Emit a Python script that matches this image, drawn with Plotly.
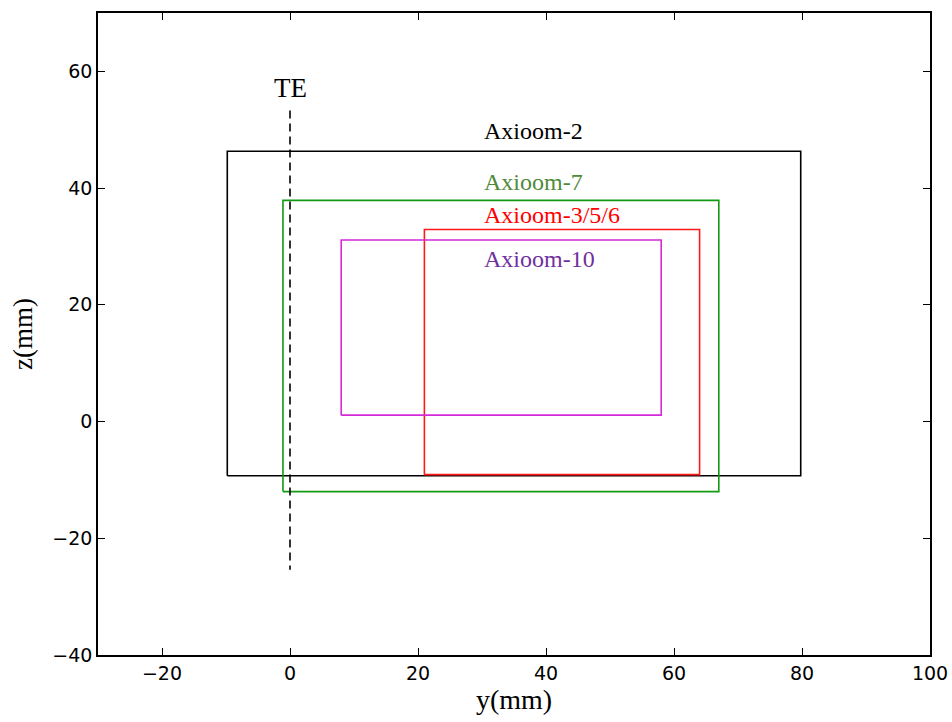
import plotly.graph_objects as go

# Rectangles: name, y-min, y-max, z-min, z-max
names = ["Axioom-2", "Axioom-7", "Axioom-3/5/6", "Axioom-10"]
y_min = [-9.8, -1.1, 21.0, 8.0]
y_max = [79.8, 67.0, 64.0, 58.0]
z_min = [-9.3, -12.0, -9.1, 1.1]
z_max = [46.3, 37.9, 32.9, 31.1]
line_colors = ["#000000", "#119911", "#ff1a1a", "#d42ad8"]
text_colors = ["#000000", "#4f8a3a", "#ff0000", "#7030a0"]
label_y = [30, 30, 30, 30]
label_z = [49.8, 41.0, 35.4, 27.8]

# Trailing-edge line
te_y = [0, 0]
te_z = [53.3, -25.4]
te_label_z = 57.2

fig = go.Figure()
for i, n in enumerate(names):
    fig.add_trace(go.Scatter(
        x=[y_min[i], y_max[i], y_max[i], y_min[i], y_min[i]],
        y=[z_min[i], z_min[i], z_max[i], z_max[i], z_min[i]],
        mode="lines", line=dict(color=line_colors[i], width=1.6),
        showlegend=False, hoverinfo="skip"))
    fig.add_annotation(x=label_y[i], y=label_z[i], text=n, showarrow=False,
                       xanchor="left", yanchor="middle",
                       font=dict(family="Liberation Serif", size=24, color=text_colors[i]))

fig.add_trace(go.Scatter(x=te_y, y=te_z, mode="lines",
                         line=dict(color="#000000", width=1.6, dash="8px,5px"),
                         showlegend=False, hoverinfo="skip"))
fig.add_annotation(x=0, y=te_label_z, text="TE", showarrow=False,
                   xanchor="center", yanchor="middle",
                   font=dict(family="Liberation Serif", size=27, color="#000000"))

axis_common = dict(showgrid=False, zeroline=False, showline=True, linecolor="#000000",
                   linewidth=1.5, mirror="ticks", ticks="inside", ticklen=7,
                   tickcolor="#000000", tickwidth=1, automargin=False,
                   tickfont=dict(family="DejaVu Sans", size=19, color="#000000"))

fig.update_layout(
    width=952, height=722,
    margin=dict(l=98, r=22, t=13, b=67),
    paper_bgcolor="white", plot_bgcolor="white",
    xaxis=dict(range=[-30, 100], tickvals=[-20, 0, 20, 40, 60, 80, 100],
               ticktext=["\u221220", "0", "20", "40", "60", "80", "100"],
               title=dict(text="y(mm)", standoff=5,
                          font=dict(family="Liberation Serif", size=28, color="#000000")),
               **axis_common),
    yaxis=dict(range=[-40, 70], tickvals=[-40, -20, 0, 20, 40, 60],
               ticktext=["\u221240", "\u221220", "0", "20", "40", "60"],
               title=dict(text="z(mm)", standoff=12,
                          font=dict(family="Liberation Serif", size=27, color="#000000")),
               **axis_common),
)

fig.write_html("out.html")
